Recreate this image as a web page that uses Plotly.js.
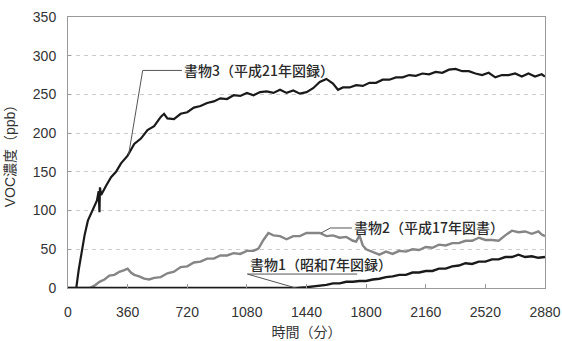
<!DOCTYPE html>
<html>
<head>
<meta charset="utf-8">
<script src="https://cdn.plot.ly/plotly-3.0.1.min.js"></script>
<style>html,body{margin:0;padding:0;background:#fff;}#chart{width:562px;height:341px;}</style>
</head>
<body>
<div id="chart"></div>
<script>
// 書物3 (平成21年図録)
const t3 = [0,50,65,80,100,120,150,175,185,190,193,200,230,260,290,320,360,400,440,480,520,560,580,600,640,680,720,760,800,840,880,920,960,1000,1040,1080,1120,1160,1200,1240,1280,1320,1360,1400,1440,1480,1520,1560,1600,1630,1660,1700,1740,1780,1820,1860,1900,1940,1980,2020,2060,2100,2140,2180,2220,2260,2300,2340,2380,2420,2460,2500,2540,2580,2620,2660,2700,2740,2780,2820,2860,2880];
const v3 = [0,0,24,44,68,87,102,113,125,98,130,120,132,143,150,161,171,186,193,204,209,221,225,219,218,225,227,233,235,239,241,245,244,249,248,252,249,253,254,252,256,252,255,251,253,258,266,270,264,256,259,259,262,261,265,265,269,269,272,272,275,274,277,276,279,278,282,283,280,280,277,275,278,272,275,275,277,273,277,273,276,273];
// 書物2 (平成17年図書)
const t2 = [0,130,160,190,220,250,280,310,340,360,380,400,430,460,490,520,560,600,640,680,720,760,800,840,880,920,960,1000,1040,1080,1120,1150,1180,1210,1240,1280,1320,1360,1400,1440,1480,1520,1560,1600,1640,1680,1720,1740,1760,1780,1800,1840,1880,1920,1960,2000,2040,2080,2120,2160,2200,2240,2280,2320,2360,2400,2440,2480,2520,2560,2600,2640,2680,2720,2760,2800,2840,2860,2880];
const v2 = [0,0,3,8,11,16,17,21,23,25,20,17,15,12,11,13,14,19,21,27,28,33,34,38,38,42,42,45,44,48,48,51,62,71,68,67,63,67,67,71,71,71,67,68,65,66,61,60,68,55,50,47,43,47,44,48,47,50,49,53,52,56,55,58,58,61,61,65,62,62,61,68,74,72,73,70,73,69,67];
// 書物1 (昭和7年図録)
const t1 = [0,1380,1440,1480,1520,1560,1600,1640,1680,1720,1760,1800,1840,1880,1920,1960,2000,2040,2080,2120,2160,2200,2240,2280,2320,2360,2400,2440,2480,2520,2560,2600,2640,2680,2720,2760,2800,2840,2880];
const v1 = [0,0,1,2,3,4,6,6,8,8,9,9,11,12,14,15,17,17,20,20,22,22,25,25,28,29,32,31,34,34,37,37,40,40,43,40,41,39,40];
const xTicks = [0,360,720,1080,1440,1800,2160,2520,2880];
const yTicks = [0,50,100,150,200,250,300,350];
const names = ['書物1（昭和7年図録）','書物2（平成17年図書）','書物3（平成21年図録）'];

const traces = [
  {x:t2, y:v2, type:'scatter', mode:'lines', name:names[1], line:{color:'#858585', width:2.4}},
  {x:t1, y:v1, type:'scatter', mode:'lines', name:names[0], line:{color:'#1a1a1a', width:2.4}},
  {x:t3, y:v3, type:'scatter', mode:'lines', name:names[2], line:{color:'#1a1a1a', width:2.2}}
];

const leader = {color:'#555', width:1};
const shapes = [
  {type:'path', xref:'x', yref:'y', path:'M366,172 L451,281 L688,281', line:leader},
  {type:'path', xref:'x', yref:'y', path:'M1528,71 L1584,77.5 L1714,77.5', line:leader},
  {type:'path', xref:'x', yref:'y', path:'M1392,-1 L1083,18 L1746,18', line:leader}
];

const annFont = {family:'Noto Sans CJK JP, sans-serif', size:14, color:'#2a2a2a', weight:500};
const annotations = [
  {x:690, y:281, xref:'x', yref:'y', text:names[2], showarrow:false, xanchor:'left', yanchor:'middle', font:annFont},
  {x:1716, y:79, xref:'x', yref:'y', text:names[1], showarrow:false, xanchor:'left', yanchor:'middle', font:annFont},
  {x:1085, y:31, xref:'x', yref:'y', text:names[0], showarrow:false, xanchor:'left', yanchor:'middle', font:annFont}
];

const layout = {
  width:562, height:341,
  margin:{l:68, r:17, t:17, b:53},
  paper_bgcolor:'#fff', plot_bgcolor:'#fff',
  showlegend:false,
  font:{family:'Liberation Sans, Noto Sans CJK JP, sans-serif', size:14, color:'#333'},
  xaxis:{
    range:[0,2880], autorange:false, tickvals:xTicks, ticktext:xTicks.map(String),
    ticks:'inside', ticklen:4, tickcolor:'#999', showgrid:false, zeroline:false,
    showline:true, mirror:true, linecolor:'#999', linewidth:1,
    ticklabelstandoff:11,
    title:{text:'時間（分）', font:{family:'Noto Sans CJK JP, sans-serif', size:14, color:'#333'}, standoff:8}
  },
  yaxis:{
    range:[0,350], autorange:false, tickvals:yTicks, ticktext:yTicks.map(String),
    ticks:'inside', ticklen:3, tickcolor:'#999', showgrid:true, gridcolor:'#cccccc', griddash:'4px,4px', gridwidth:1,
    zeroline:false, showline:true, mirror:true, linecolor:'#999', linewidth:1,
    ticklabelstandoff:8,
    title:{text:'VOC濃度（ppb）', font:{family:'Liberation Sans, Noto Sans CJK JP, sans-serif', size:14, color:'#333'}, standoff:13}
  },
  shapes:shapes,
  annotations:annotations
};

Plotly.newPlot('chart', traces, layout, {displayModeBar:false, staticPlot:true});
</script>
</body>
</html>
